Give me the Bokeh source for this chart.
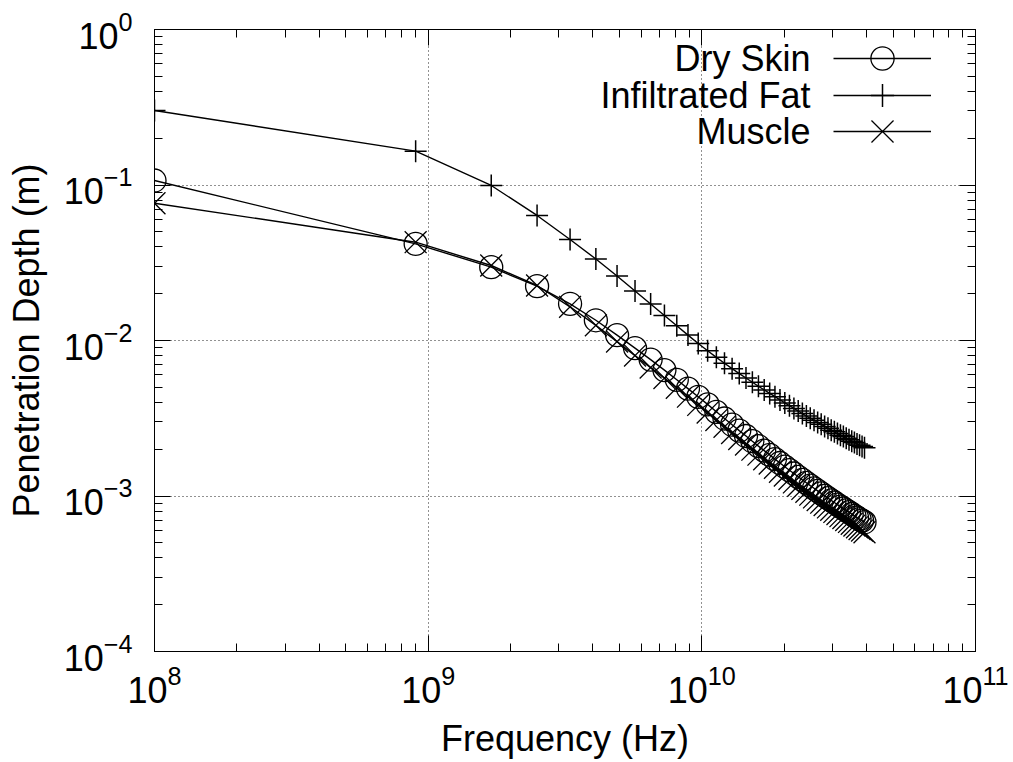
from bokeh.plotting import figure
from bokeh.models import (Range1d, FixedTicker, LogAxis, Legend, LegendItem, Label,
                          CustomJSTickFormatter, LogTickFormatter)
from bokeh.embed import file_html
from bokeh.resources import INLINE

# ---------------- data ----------------
freq_hz = [1.0e8, 9.0e8, 1.7e9, 2.5e9, 3.3e9, 4.1e9, 4.9e9, 5.7e9, 6.5e9, 7.3e9,
           8.1e9, 8.9e9, 9.7e9, 10.5e9, 11.3e9, 12.1e9, 12.9e9, 13.7e9, 14.5e9, 15.3e9,
           16.1e9, 16.9e9, 17.7e9, 18.5e9, 19.3e9, 20.1e9, 20.9e9, 21.7e9, 22.5e9, 23.3e9,
           24.1e9, 24.9e9, 25.7e9, 26.5e9, 27.3e9, 28.1e9, 28.9e9, 29.7e9, 30.5e9, 31.3e9,
           32.1e9, 32.9e9, 33.7e9, 34.5e9, 35.3e9, 36.1e9, 36.9e9, 37.7e9, 38.5e9, 39.3e9]

dry_skin = [0.1069, 0.04186, 0.02961, 0.02235, 0.01722, 0.01349, 0.01083, 0.008935, 0.007538, 0.00645,
            0.005589, 0.004906, 0.004344, 0.003883, 0.003479, 0.003150, 0.002874, 0.002634, 0.002432, 0.002251,
            0.002094, 0.001959, 0.001838, 0.001727, 0.001630, 0.001543, 0.001465, 0.001395, 0.001329, 0.001269,
            0.001216, 0.001166, 0.001121, 0.001078, 0.001039, 0.001003, 0.0009694, 0.0009369, 0.0009082, 0.0008805,
            0.0008547, 0.0008310, 0.0008080, 0.0007867, 0.0007659, 0.0007459, 0.0007272, 0.0007101, 0.0006946, 0.0006783]

infiltrated_fat = [0.3013, 0.1650, 0.0993, 0.0637, 0.04462, 0.03343, 0.02599, 0.02081, 0.01717, 0.01448,
                   0.01243, 0.01083, 0.00957, 0.00859, 0.00779, 0.00714, 0.00659, 0.00613, 0.00574, 0.00539,
                   0.00508, 0.00481, 0.00457, 0.00435, 0.00415, 0.00397, 0.00381, 0.00366, 0.00352, 0.00339,
                   0.00327, 0.00316, 0.00307, 0.00297, 0.00289, 0.00280, 0.00273, 0.00265, 0.00259, 0.00252,
                   0.00246, 0.00241, 0.00235, 0.00230, 0.00225, 0.00221, 0.00216, 0.00212, 0.00208, 0.00204]

muscle = [0.07636, 0.04287, 0.03036, 0.02258, 0.01647, 0.01252, 0.009838, 0.007996, 0.006693, 0.005731,
          0.004961, 0.004351, 0.003851, 0.003438, 0.003079, 0.002786, 0.002540, 0.002326, 0.002145, 0.001985,
          0.001845, 0.001724, 0.001617, 0.001518, 0.001432, 0.001354, 0.001285, 0.001223, 0.001164, 0.001111,
          0.001063, 0.001020, 0.0009788, 0.0009410, 0.0009061, 0.0008740, 0.0008441, 0.0008152, 0.0007896, 0.0007649,
          0.0007420, 0.0007210, 0.0007003, 0.0006813, 0.0006630, 0.0006450, 0.0006286, 0.0006135, 0.0005995, 0.0005850]

series_names = ["Dry Skin", "Infiltrated Fat", "Muscle"]
x_major = [1e8, 1e9, 1e10, 1e11]
y_major = [1e-4, 1e-3, 1e-2, 1e-1, 1e0]
x_label = "Frequency (Hz)"
y_label = "Penetration Depth (m)"

FONT = "Liberation Sans"
x_minor = [m * t for t in x_major[:-1] for m in range(2, 10)]
y_minor = [m * t for t in y_major[:-1] for m in range(2, 10)]

p = figure(width=1013, height=762, x_axis_type="log", y_axis_type="log",
           x_range=Range1d(1e8, 1e11), y_range=Range1d(1e-4, 1),
           output_backend="svg", toolbar_location=None,
           min_border_left=154, min_border_right=38, min_border_top=29, min_border_bottom=111,
           background_fill_color="white", border_fill_color="white",
           outline_line_color="black", outline_line_width=1)

xt = FixedTicker(ticks=x_major, minor_ticks=x_minor)
yt = FixedTicker(ticks=y_major, minor_ticks=y_minor)
p.xaxis.ticker = xt
p.yaxis.ticker = yt
p.xaxis.formatter = LogTickFormatter()
p.yaxis.formatter = LogTickFormatter()

def style_axis(ax):
    ax.major_tick_in = 16
    ax.major_tick_out = 0
    ax.minor_tick_in = 8
    ax.minor_tick_out = 0
    ax.major_tick_line_color = "black"
    ax.minor_tick_line_color = "black"
    ax.axis_line_color = "black"
    ax.major_label_text_font = FONT
    ax.major_label_text_font_size = "36px"
    ax.major_label_text_color = "black"
    ax.axis_label_text_font = FONT
    ax.axis_label_text_font_size = "36px"
    ax.axis_label_text_font_style = "normal"
    ax.axis_label_text_color = "black"

for ax in p.xaxis + p.yaxis:
    style_axis(ax)
p.xaxis.axis_label = x_label
p.yaxis.axis_label = y_label
p.xaxis.major_label_standoff = 13
p.xaxis.axis_label_standoff = 12
p.yaxis.major_label_standoff = 22
p.yaxis.axis_label_standoff = 14

blank = CustomJSTickFormatter(code="return ''")
top = LogAxis(ticker=xt, formatter=blank)
right = LogAxis(ticker=yt, formatter=blank)
for ax in (top, right):
    style_axis(ax)
    ax.major_label_text_font_size = "1px"
p.add_layout(top, "above")
p.add_layout(right, "right")

for g in (p.xgrid, p.ygrid):
    g.grid_line_color = "#222222"
    g.grid_line_dash = "1 3"
    g.grid_line_width = 1

r_skin = p.line(freq_hz, dry_skin, line_color="black", line_width=1.4)
s_skin = p.scatter(freq_hz, dry_skin, marker="circle", size=23, fill_color=None,
                   line_color="black", line_width=1.3)
r_fat = p.line(freq_hz, infiltrated_fat, line_color="black", line_width=1.4)
s_fat = p.scatter(freq_hz, infiltrated_fat, marker="cross", size=22,
                  line_color="black", line_width=1.5)
r_mus = p.line(freq_hz, muscle, line_color="black", line_width=1.4)
s_mus = p.scatter(freq_hz, muscle, marker="x", size=31,
                  line_color="black", line_width=1.3)

row_y = [592.7, 556.3, 520.0]      # label rows, screen units from frame bottom
glyph_h = [58, 58, 78]             # legend marker size = 0.4 * glyph height
for name, rs, yy, gh in zip(series_names,
                            [[r_skin, s_skin], [r_fat, s_fat], [r_mus, s_mus]],
                            row_y, glyph_h):
    lg = Legend(items=[LegendItem(label="", renderers=rs)],
                location=(679, yy - gh / 2), glyph_width=98, glyph_height=gh, spacing=0,
                padding=0, margin=0, label_standoff=0, label_width=0, label_height=0,
                label_text_font_size="1px",
                background_fill_alpha=0, border_line_alpha=0)
    p.add_layout(lg)
    p.add_layout(Label(x=656, y=yy, x_units="screen", y_units="screen", text=name,
                       text_align="right", text_baseline="middle", text_font=FONT,
                       text_font_size="36px", text_color="black"))

open("out.html", "w").write(file_html(p, INLINE))
